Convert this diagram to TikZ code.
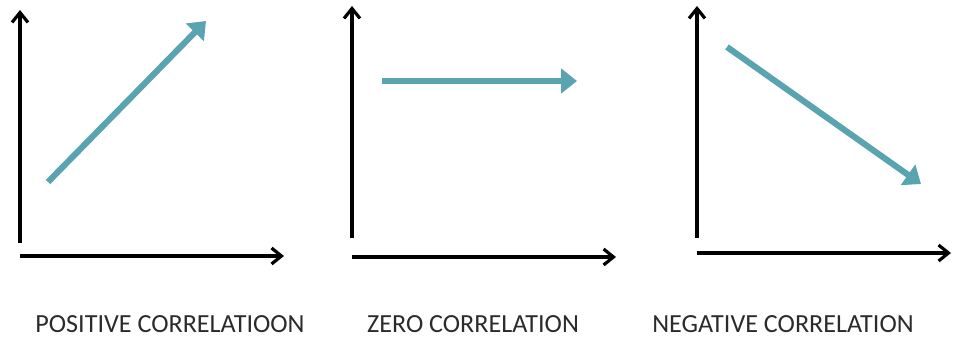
\documentclass[tikz,border=0pt]{standalone}
\usepackage{fontspec}
\setmainfont{Carlito}
\usepackage{tikz}
\usetikzlibrary{arrows.meta,positioning}
\definecolor{Trend}{HTML}{5AA4B2}
\definecolor{Caption}{HTML}{2B2B2B}

\begin{document}
\begin{tikzpicture}[x=0.75pt,y=-0.75pt,
        axis/.style={-{Straight Barb[length=2.6mm,width=4.2mm,line width=2.4pt]},draw=black,line width=2.6pt},
        trend/.style={-{Triangle[length=4.2mm,width=6.4mm]},draw=Trend,line width=4.6pt},
        caption/.style={font=\fontsize{19.6}{22}\selectfont,text=Caption,anchor=base,inner sep=1pt}]
        \useasboundingbox (0,0) rectangle (953,338);
        % positive
        \coordinate (p0) at (20,243);
        \coordinate (py) at (20,10);
        \coordinate (px0) at (20,256);
        \coordinate (px) at (284,256);
        \coordinate (pa) at (48,182);
        \coordinate (pb) at (206,21);
        \draw[axis] (p0) -- (py);
        \draw[axis] (px0) -- (px);
        \draw[trend] (pa) -- (pb);
        \node[caption] (pcap) at (170,332) {POSITIVE CORRELATIOON};
        % zero
        \coordinate (z0) at (352,238);
        \coordinate (zy) at (352,6);
        \coordinate (zx0) at (352,257);
        \coordinate (zx) at (616,257);
        \coordinate (za) at (382,81);
        \coordinate (zb) at (577,81);
        \draw[axis] (z0) -- (zy);
        \draw[axis] (zx0) -- (zx);
        \draw[trend] (za) -- (zb);
        \node[caption] (zcap) at (473,332) {ZERO CORRELATION};
        % negative
        \coordinate (n0) at (697,238);
        \coordinate (ny) at (697,6);
        \coordinate (nx0) at (697,253);
        \coordinate (nx) at (951,253);
        \coordinate (na) at (727,47);
        \coordinate (nb) at (921,184);
        \draw[axis] (n0) -- (ny);
        \draw[axis] (nx0) -- (nx);
        \draw[trend] (na) -- (nb);
        \node[caption] (ncap) at (783,332) {NEGATIVE CORRELATION};
      \end{tikzpicture}
\end{document}
